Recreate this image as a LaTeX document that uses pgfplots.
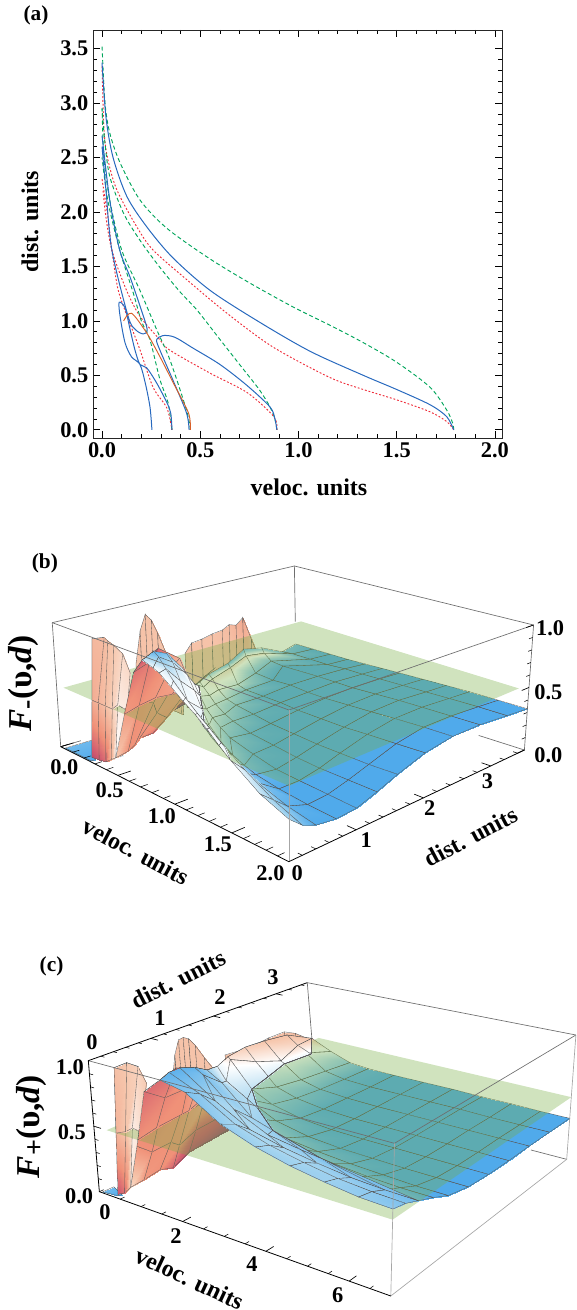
\documentclass[border=0pt]{standalone}
\usepackage{fontspec}
\setmainfont{Liberation Serif}
\usepackage{pgfplots}
\pgfplotsset{compat=1.18}
\definecolor{cb}{RGB}{40,105,190}
\definecolor{cg}{RGB}{0,165,90}
\definecolor{cr}{RGB}{238,45,58}
\definecolor{co}{RGB}{215,95,40}
\definecolor{pl}{RGB}{120,175,70}
\definecolor{fr}{RGB}{110,110,110}
\pgfplotsset{
 colormap={fm}{rgb255(0pt)=(90,60,120) rgb255(10pt)=(205,85,110) rgb255(20pt)=(240,145,120) rgb255(35pt)=(246,198,172) rgb255(50pt)=(255,255,255) rgb255(70pt)=(172,216,240) rgb255(100pt)=(80,170,235)},
 /pgfplots/table/pb/.style={row sep=\\,x expr={bx(\thisrow{v}/2,\thisrow{d}/3.5,\thisrow{F})},y expr={by(\thisrow{v}/2,\thisrow{d}/3.5,\thisrow{F})}},
 /pgfplots/table/pc/.style={row sep=\\,x expr={cx(\thisrow{v}/7,\thisrow{d}/3.5,\thisrow{F})},y expr={cy(\thisrow{v}/7,\thisrow{d}/3.5,\thisrow{F})}},
 sf/.style={surf,shader=faceted interp,faceted color=black!65,line width=.25pt,point meta=\thisrow{c}},
 ov/.style={scale only axis,width=432.75pt,hide axis,clip=false,xmin=0,xmax=1568,ymin=0,y dir=reverse,colormap name=fm,point meta min=0,point meta max=1,anchor=south west},
 /pgf/number format/assume math mode=true,
}
\newcommand\tl[4][0]{\node[font=\fontsize{16.8}{17}\bfseries\selectfont,rotate=#1] at (axis cs:#2,#3) {#4};}
\newcommand\al[4]{\node[font=\fontsize{18}{18}\bfseries\selectfont,rotate=#1] at (axis cs:#2,#3) {#4};}
\begin{document}
\begin{tikzpicture}[declare function={
 bx(\u,\w,\z)=(1-\z)*((1-\u)*((1-\w)*165+\w*805)+\u*((1-\w)*785+\w*1425))+\z*((1-\u)*((1-\w)*142+\w*800)+\u*((1-\w)*785+\w*1450));
 by(\u,\w,\z)=(1-\z)*((1-\u)*((1-\w)*620+\w*412)+\u*((1-\w)*965+\w*630))+\z*((1-\u)*((1-\w)*248+\w*78)+\u*((1-\w)*510+\w*255));
 cx(\u,\w,\z)=(1-\z)*((1-\u)*((1-\w)*270+\w*860)+\u*((1-\w)*1062+\w*1540))+\z*((1-\u)*((1-\w)*240+\w*835)+\u*((1-\w)*1072+\w*1565));
 cy(\u,\w,\z)=(1-\z)*((1-\u)*((1-\w)*755+\w*462)+\u*((1-\w)*1068+\w*658))+\z*((1-\u)*((1-\w)*362+\w*128)+\u*((1-\w)*610+\w*285));
}]
\path[use as bounding box] (0,0) rectangle (432.75pt,982.5pt);
% ---------------- panel (a)
\begin{axis}[at={(69.75pt,654pt)},anchor=south west,scale only axis,width=306.75pt,height=306pt,
 xmin=-0.046,xmax=2.036,ymin=-0.075,ymax=3.67,
 xtick={0,0.5,1,1.5,2},ytick={0,0.5,1,1.5,2,2.5,3,3.5},minor x tick num=4,minor y tick num=4,
 major tick length=5pt,minor tick length=2.8pt,tick style={black,line width=.5pt},tick align=inside,
 axis line style={black!85,line width=.7pt},
 tick label style={font=\fontsize{16.8}{17}\bfseries\selectfont},
 xticklabel style={/pgf/number format/.cd,fixed,fixed zerofill,precision=1},
 yticklabel style={/pgf/number format/.cd,fixed,fixed zerofill,precision=1},
 label style={font=\fontsize{18}{18}\bfseries\selectfont},
 xlabel={veloc. units},ylabel={dist. units},
 x label style={at={(axis description cs:0.528,-0.12)},anchor=center},
 y label style={at={(axis description cs:-0.154,0.53)},anchor=center},
 blu/.style={cb,line width=.75pt,smooth,tension=.5},
 grn/.style={cg,line width=.7pt,smooth,tension=.5,dash pattern=on 3pt off 2pt},
 rd/.style={cr,line width=.7pt,smooth,tension=.5,dash pattern=on 1.4pt off 1.4pt}]
\addplot[grn] coordinates {(1.79,0)(1.785,.06)(1.755,.18)(1.67,.39)(1.5,.62)(1.33,.8)(1.16,.96)(.97,1.13)(.74,1.36)(.54,1.58)(.33,1.85)(.193,2.11)(.092,2.45)(.04,2.72)(.015,3)(0,3.53)};
\addplot[rd] coordinates {(1.79,0)(1.755,.075)(1.67,.165)(1.5,.275)(1.33,.37)(1.16,.48)(.87,.76)(.636,1.07)(.43,1.38)(.26,1.65)(.178,1.86)(.076,2.2)(.03,2.48)(.01,2.75)(0,3.35)};
\addplot[blu] coordinates {(1.79,0)(1.755,.12)(1.67,.23)(1.5,.37)(1.33,.5)(1.06,.72)(.8,.99)(.55,1.28)(.36,1.58)(.229,1.86)(.127,2.14)(.056,2.5)(.02,2.87)(0,3.37)};
\addplot[grn] coordinates {(.89,0)(.88,.1)(.855,.21)(.8,.37)(.7,.6)(.6,.83)(.483,1.1)(.4,1.26)(.295,1.49)(.193,1.74)(.109,1.99)(.04,2.32)(.015,2.63)(0,2.95)};
\addplot[rd] coordinates {(.89,0)(.875,.12)(.74,.34)(.55,.52)(.346,.73)(.295,.825)(.19,1.05)(.12,1.3)(.05,1.65)(.02,1.95)(.005,2.2)};
\addplot[grn] coordinates {(.45,0)(.43,.18)(.346,.64)(.278,.92)(.193,1.28)(.10,1.65)(.04,2.1)(.01,2.5)(0,2.95)};
\addplot[grn] coordinates {(.356,0)(.336,.25)(.295,.46)(.244,.825)(.2,1)(.16,1.25)(.09,1.65)(.03,2.1)(0,2.5)};
\addplot[rd] coordinates {(0,2.3)(.03,1.95)(.05,1.65)(.08,1.3)(.12,1.08)(.19,.75)(.26,.39)(.33,.2)(.356,0)};
\addplot[blu] coordinates {(.89,0)(.88,.1)(.855,.21)(.736,.41)(.6,.6)(.463,.75)(.37,.85)(.31,.865)(.278,.825)(.295,.73)(.36,.46)(.43,.155)(.443,0)};
\addplot[blu] coordinates {(0,2.6)(.02,2.2)(.05,1.65)(.133,1.04)(.17,.92)(.21,.88)(.23,.92)(.2,1.1)(.143,1.4)(.09,1.65)(.04,2.1)(0,2.7)};
\addplot[blu] coordinates {(.254,0)(.244,.21)(.22,.43)(.193,.6)(.15,.67)(.117,.8)(.092,1.04)(.087,1.17)(.117,1.12)(.143,.92)(.168,.73)(.193,.6)(.227,.57)(.278,.43)(.33,.25)(.35,.15)(.356,0)};
\addplot[co,line width=.7pt,smooth,tension=.5] coordinates {(.11,1.0)(.15,1.07)(.227,.89)(.295,.67)(.36,.44)(.44,.155)(.45,0)};
\end{axis}
% ---------------- panel (b)
\begin{axis}[ov,at={(0,315pt)},height=262.5pt,ymax=1050]
\addplot[fr,line width=.5pt] table[pb] {v d F\\0 0 1\\0 3.5 1\\2 3.5 1\\};
\addplot[fr,line width=.5pt] table[pb] {v d F\\0 3.5 1\\0 3.5 .5\\};
\addplot[fr,line width=.5pt] table[pb] {v d F\\0 0 0\\0 .3 0\\};
\addplot[fr,line width=.5pt] table[pb] {v d F\\2 3.5 0\\1.6 3.5 0\\};
\addplot[fr,line width=.5pt] table[pb] {v d F\\0 0 1\\0 0 0\\};
% floor strip
\addplot[sf,mesh/rows=2,mesh/cols=2] table[pb] {v d F c\\.03 .42 0 .9\\.27 .06 .01 1\\.03 .02 0 .9\\.27 0 .01 1\\};
% back lobe L3
\addplot[sf,mesh/rows=2,mesh/cols=12] table[pb] {v d F c\\.2 1.55 .15 .35\\.2 1.65 .15 .35\\.2 1.8 .15 .35\\.2 1.95 .15 .35\\.2 2.1 .15 .35\\.2 2.2 .15 .35\\.2 2.3 .17 .35\\.2 2.4 .17 .35\\.2 2.52 .2 .35\\.2 2.6 .2 .35\\.2 2.7 .2 .35\\.2 2.77 .2 .35\\
.2 1.55 .6 .34\\.2 1.65 .67 .34\\.2 1.8 .68 .34\\.2 1.95 .7 .34\\.2 2.1 .71 .33\\.2 2.2 .74 .32\\.2 2.3 .72 .3\\.2 2.4 .77 .27\\.2 2.52 .56 .34\\.2 2.6 .43 .34\\.2 2.7 .43 .5\\.2 2.77 .32 .35\\};
% lobe L2
\addplot[sf,mesh/rows=2,mesh/cols=8] table[pb] {v d F c\\.1 1 .3 .35\\.15 1 .3 .35\\.2 1 .3 .35\\.25 1 .3 .35\\.3 1 .3 .35\\.4 1 .3 .35\\.48 1 .3 .35\\.5 1 .3 .35\\.1 1 .56 .34\\.15 1 .85 .34\\.2 1 1 .34\\.25 1 .97 .34\\.3 1 .88 .34\\.4 1 .67 .34\\.48 1 .45 .34\\.5 1 .36 .34\\};
% lobe L1
\addplot[sf,mesh/rows=6,mesh/cols=3] table[pb] {v d F c\\.49 .1 .13 .55\\.55 .1 .5 .45\\.59 .1 .8 .4\\
.49 0 .13 .5\\.53 0 .55 .45\\.575 .03 .95 .4\\
.45 0 .1 .3\\.48 0 .5 .38\\.52 0 1 .36\\
.4 0 .06 .14\\.42 0 .5 .33\\.44 .05 1 .34\\
.34 0 .05 .1\\.36 0 .5 .3\\.38 .1 1 .32\\
.274 0 .04 .08\\.305 0 .5 .28\\.336 0 .99 .31\\};
% salmon sheet
\addplot[sf,mesh/rows=7,mesh/cols=4] table[pb] {v d F c\\.04 1.8 .08 .03\\.13 1.8 .2 .08\\.22 1.8 .38 .22\\.31 1.8 .48 .35\\
.03 1.43 .02 .03\\.16 1.43 .15 .1\\.3 1.43 .35 .22\\.42 1.43 .49 .35\\
.19 1.05 .02 .15\\.32 1.05 .2 .2\\.45 1.05 .4 .22\\.58 1.05 .55 .35\\
.215 .81 .03 .2\\.38 .81 .3 .22\\.52 .81 .55 .22\\.65 .81 .7 .35\\
.3 .6 .05 .2\\.48 .6 .45 .22\\.62 .6 .75 .22\\.72 .6 .88 .3\\
.42 .3 .1 .2\\.55 .3 .55 .2\\.64 .3 .87 .16\\.72 .3 1 .12\\
.49 0 .13 .35\\.6 0 .56 .22\\.68 0 .85 .15\\.76 0 .97 .1\\};
% main surface
\addplot[sf,mesh/rows=12,mesh/cols=12] table[pb] {v d F c\\
0 3.5 .3 .9\\.15 3.5 .3 1\\.3 3.5 .3 1\\.45 3.5 .3 1\\.6 3.5 .305 1\\.75 3.5 .31 1\\.9 3.5 .315 1\\1.1 3.5 .32 1\\1.3 3.5 .325 1\\1.5 3.5 .33 1\\1.75 3.5 .33 1\\2 3.5 .33 1\\
.06 3.2 .3 .85\\.15 3.2 .31 .9\\.3 3.2 .31 1\\.45 3.2 .31 1\\.6 3.2 .32 1\\.75 3.2 .32 1\\.9 3.2 .325 1\\1.1 3.2 .33 1\\1.3 3.2 .335 1\\1.5 3.2 .34 1\\1.75 3.2 .345 1\\2 3.2 .345 1\\
.12 2.8 .42 .8\\.14 2.8 .38 .42\\.2 2.8 .33 .85\\.3 2.8 .32 1\\.6 2.8 .33 1\\.75 2.8 .33 1\\.9 2.8 .33 1\\1.1 2.8 .34 1\\1.3 2.8 .35 1\\1.5 2.8 .355 1\\1.75 2.8 .36 1\\2 2.8 .365 1\\
.2 2.4 .5 .85\\.22 2.4 .45 .42\\.3 2.4 .33 .85\\.45 2.4 .32 1\\.6 2.4 .33 1\\.75 2.4 .32 1\\.9 2.4 .32 1\\1.1 2.4 .33 1\\1.3 2.4 .34 1\\1.5 2.4 .35 1\\1.75 2.4 .36 1\\2 2.4 .365 1\\
.3 2 .48 .85\\.32 2 .45 .42\\.38 2 .33 .6\\.45 2 .31 .85\\.6 2 .31 1\\.75 2 .31 1\\.9 2 .3 1\\1.1 2 .3 1\\1.3 2 .3 1\\1.5 2 .31 1\\1.75 2 .32 1\\2 2 .33 1\\
.37 1.6 .48 .7\\.4 1.6 .45 .45\\.45 1.6 .38 .5\\.52 1.6 .33 .65\\.6 1.6 .31 .8\\.75 1.6 .29 .95\\.9 1.6 .27 1\\1.1 1.6 .26 1\\1.3 1.6 .25 1\\1.5 1.6 .25 1\\1.75 1.6 .25 1\\2 1.6 .26 1\\
.47 1.3 .5 .5\\.5 1.3 .47 .5\\.55 1.3 .42 .52\\.6 1.3 .37 .6\\.68 1.3 .32 .7\\.75 1.3 .29 .8\\.9 1.3 .25 .95\\1.1 1.3 .23 1\\1.3 1.3 .21 1\\1.5 1.3 .2 1\\1.75 1.3 .2 1\\2 1.3 .2 1\\
.58 1 .55 .5\\.6 1 .58 .5\\.65 1 .5 .52\\.7 1 .42 .55\\.75 1 .37 .6\\.82 1 .32 .7\\.9 1 .27 .82\\1.1 1 .22 .95\\1.3 1 .18 1\\1.5 1 .17 1\\1.75 1 .16 1\\2 1 .15 1\\
.68 .7 .78 .5\\.72 .7 .74 .5\\.78 .7 .64 .5\\.84 .7 .52 .52\\.9 .7 .42 .55\\1 .7 .33 .65\\1.1 .7 .27 .75\\1.2 .7 .23 .85\\1.3 .7 .2 .92\\1.5 .7 .17 1\\1.75 .7 .15 1\\2 .7 .14 1\\
.73 .4 .95 .85\\.78 .4 .9 .65\\.84 .4 .78 .55\\.9 .4 .65 .52\\1 .4 .54 .55\\1.1 .4 .45 .6\\1.2 .4 .39 .65\\1.3 .4 .34 .72\\1.4 .4 .3 .8\\1.5 .4 .27 .85\\1.75 .4 .2 .95\\2 .4 .16 1\\
.74 .2 1 .95\\.78 .2 .97 .8\\.84 .2 .9 .6\\.9 .2 .83 .55\\1 .2 .74 .52\\1.1 .2 .66 .52\\1.2 .2 .59 .53\\1.3 .2 .52 .55\\1.4 .2 .46 .58\\1.5 .2 .4 .62\\1.75 .2 .28 .75\\2 .2 .2 .85\\
.76 0 .97 .6\\.8 0 .96 .55\\.85 0 .94 .52\\.9 0 .92 .52\\1 0 .85 .5\\1.1 0 .78 .5\\1.2 0 .72 .5\\1.3 0 .65 .5\\1.4 0 .57 .5\\1.5 0 .5 .52\\1.75 0 .36 .62\\2 0 .28 .7\\};
% green plane at 0.5
\addplot[fill=pl,fill opacity=.35,draw=none] table[pb] {v d F\\.06 0 .5\\2 0 .5\\1.96 3.42 .5\\.02 3.55 .5\\} -- cycle;
% parts above the plane
\addplot[sf,mesh/rows=6,mesh/cols=2] table[pb] {v d F c\\.55 .1 .5 .45\\.59 .1 .8 .4\\.53 0 .55 .45\\.575 .03 .95 .4\\.48 0 .5 .38\\.52 0 1 .36\\.42 0 .5 .33\\.44 .05 1 .34\\.36 0 .5 .3\\.38 .1 1 .32\\.305 0 .5 .28\\.336 0 .99 .31\\};
\addplot[sf,mesh/rows=6,mesh/cols=3] table[pb] {v d F c\\.52 1.2 .5 .35\\.52 1.2 .5 .35\\.52 1.2 .5 .35\\
.56 1.05 .5 .22\\.57 1.05 .53 .3\\.58 1.05 .55 .35\\
.52 .81 .5 .22\\.6 .81 .62 .25\\.65 .81 .7 .35\\
.5 .6 .5 .22\\.62 .6 .75 .22\\.72 .6 .88 .3\\
.535 .3 .5 .2\\.64 .3 .87 .16\\.72 .3 1 .12\\
.585 0 .5 .22\\.68 0 .85 .15\\.76 0 .97 .1\\};
\addplot[sf,mesh/rows=6,mesh/cols=9] table[pb] {v d F c\\.52 1.2 .5 .5\\.52 1.2 .5 .5\\.52 1.2 .5 .5\\.52 1.2 .5 .5\\.52 1.2 .5 .5\\.52 1.2 .5 .5\\.52 1.2 .5 .5\\.52 1.2 .5 .5\\.52 1.2 .5 .5\\
.58 1 .55 .5\\.6 1 .58 .5\\.65 1 .5 .52\\.65 1 .5 .52\\.65 1 .5 .52\\.65 1 .5 .52\\.65 1 .5 .52\\.65 1 .5 .52\\.65 1 .5 .52\\
.68 .7 .78 .5\\.72 .7 .74 .5\\.78 .7 .64 .5\\.84 .7 .52 .52\\.85 .7 .5 .55\\.85 .7 .5 .55\\.85 .7 .5 .55\\.85 .7 .5 .55\\.85 .7 .5 .55\\
.73 .4 .95 .85\\.78 .4 .9 .65\\.84 .4 .78 .55\\.9 .4 .65 .52\\1 .4 .54 .55\\1.04 .4 .5 .57\\1.04 .4 .5 .57\\1.04 .4 .5 .57\\1.04 .4 .5 .57\\
.74 .2 1 .95\\.78 .2 .97 .8\\.84 .2 .9 .6\\.9 .2 .83 .55\\1 .2 .74 .52\\1.1 .2 .66 .52\\1.2 .2 .59 .53\\1.3 .2 .52 .55\\1.33 .2 .5 .56\\
.76 0 .97 .6\\.85 0 .94 .52\\.9 0 .92 .52\\1 0 .85 .5\\1.1 0 .78 .5\\1.2 0 .72 .5\\1.3 0 .65 .5\\1.4 0 .57 .5\\1.5 0 .5 .52\\};
% frame
\addplot[fr,line width=.5pt] table[pb] {v d F\\0 0 1\\2 0 1\\2 3.5 1\\2 3.5 0\\};
\addplot[black!35,line width=.5pt] table[pb] {v d F\\2 0 1\\2 0 0\\};
\addplot[black,line width=.6pt] table[pb] {v d F\\0 0 0\\2 0 0\\2 3.5 0\\};
\pgfplotsinvokeforeach{0,.1,.2,.3,.4,.6,.7,.8,.9,1.1,1.2,1.3,1.4,1.6,1.7,1.8,1.9}{\addplot[black,line width=.4pt] coordinates {({bx(#1/2,0,0)},{by(#1/2,0,0)}) ({bx(#1/2,.03,0)},{by(#1/2,.03,0)})};}
\pgfplotsinvokeforeach{0,.5,1,1.5}{\addplot[black,line width=.5pt] coordinates {({bx(#1/2,0,0)},{by(#1/2,0,0)}) ({bx(#1/2,.055,0)},{by(#1/2,.055,0)})};}
\pgfplotsinvokeforeach{.2,.4,.6,.8,1.2,1.4,1.6,1.8,2.2,2.4,2.6,2.8,3.2,3.4}{\addplot[black,line width=.4pt] coordinates {({bx(1,#1/3.5,0)},{by(1,#1/3.5,0)}) ({bx(.98,#1/3.5,0)},{by(.98,#1/3.5,0)})};}
\pgfplotsinvokeforeach{1,2,3}{\addplot[black,line width=.5pt] coordinates {({bx(1,#1/3.5,0)},{by(1,#1/3.5,0)}) ({bx(.96,#1/3.5,0)},{by(.96,#1/3.5,0)})};}
\pgfplotsinvokeforeach{.1,.2,.3,.4,.6,.7,.8,.9}{\addplot[black,line width=.4pt] coordinates {({bx(1,1,#1)},{by(1,1,#1)}) ({bx(1,.985,#1)},{by(1,.985,#1)})};}
\pgfplotsinvokeforeach{0,.5,1}{\addplot[black,line width=.5pt] coordinates {({bx(1,1,#1)},{by(1,1,#1)}) ({bx(1,.97,#1)},{by(1,.97,#1)})};}
\tl{175}{682}{0.0}\tl{298}{752}{0.5}\tl{440}{828}{1.0}\tl{592}{912}{1.5}\tl{735}{1000}{2.0}
\tl{808}{1000}{0}\tl{995}{900}{1}\tl{1168}{805}{2}\tl{1325}{725}{3}
\tl{1495}{265}{1.0}\tl{1490}{458}{0.5}\tl{1490}{645}{0.0}
\al{-28}{370}{935}{veloc. units}\al{28}{1280}{890}{dist. units}
\node[font=\fontsize{16}{16}\bfseries\selectfont] at (axis cs:122,70) {(b)};
\node[rotate=90,font=\fontsize{25}{25}\bfseries\selectfont] at (axis cs:65,430) {\itshape F\raisebox{-3pt}{\fontsize{21}{21}\selectfont\upshape -}\upshape(υ,\itshape d\upshape)};
\end{axis}
% ---------------- panel (c)
\begin{axis}[ov,at={(0,0)},height=277.5pt,ymax=1110]
\addplot[fr,line width=.5pt] table[pc] {v d F\\0 3.5 1\\7 3.5 1\\};
\addplot[fr,line width=.5pt] table[pc] {v d F\\0 3.5 1\\0 3.5 .5\\};
\addplot[fr,line width=.5pt] table[pc] {v d F\\7 3.5 0\\6 3.5 0\\};
\addplot[sf,mesh/rows=2,mesh/cols=2] table[pc] {v d F c\\.05 .2 0 .9\\.4 .1 0 1\\.05 .02 0 .9\\.45 0 .02 1\\};
% lobe L3
\addplot[sf,mesh/rows=2,mesh/cols=8] table[pc] {v d F c\\.05 2.1 .4 .4\\.05 2.3 .4 .4\\.05 2.52 .4 .4\\.05 2.8 .4 .4\\.05 3.05 .4 .4\\.05 3.22 .4 .4\\.05 3.35 .4 .4\\.05 3.45 .4 .4\\
.05 2.1 .66 .34\\.05 2.3 .65 .34\\.05 2.52 .64 .33\\.05 2.8 .66 .33\\.05 3.05 .66 .33\\.05 3.22 .61 .33\\.05 3.35 .55 .34\\.05 3.45 .5 .36\\};
% lobe L2
\addplot[sf,mesh/rows=2,mesh/cols=8] table[pc] {v d F c\\.02 1.3 .4 .36\\.08 1.3 .4 .36\\.2 1.3 .4 .36\\.32 1.3 .4 .36\\.45 1.3 .4 .36\\.6 1.3 .4 .36\\.8 1.3 .4 .36\\1 1.3 .4 .36\\.02 1.3 .7 .34\\.08 1.3 .82 .34\\.2 1.3 .95 .34\\.32 1.3 .98 .34\\.45 1.3 .98 .34\\.6 1.3 .94 .34\\.8 1.3 .86 .34\\1 1.3 .79 .34\\};
% lobe L1
\addplot[sf,mesh/rows=4,mesh/cols=3] table[pc] {v d F c\\.78 0 .12 .5\\.82 .2 .5 .42\\.85 .32 .85 .36\\
.78 0 .12 .45\\.8 .08 .55 .45\\.87 .19 1 .38\\
.62 0 .06 .15\\.6 .1 .5 .35\\.58 .21 1 .36\\
.45 0 .03 .1\\.52 0 .5 .3\\.59 0 1 .33\\};
% salmon sheet
\addplot[sf,mesh/rows=6,mesh/cols=4] table[pc] {v d F c\\.07 2.1 .05 .05\\.12 2.1 .2 .1\\.2 2.1 .45 .25\\.4 2.1 .7 .36\\
.03 1.43 0 .08\\.25 1.43 .2 .12\\.5 1.43 .45 .25\\.85 1.43 .74 .4\\
.3 1 0 .12\\.5 1 .2 .2\\.8 1 .5 .22\\1.2 1 .85 .3\\
.17 .87 0 .2\\.5 .87 .25 .2\\.9 .87 .6 .2\\1.25 .87 .9 .25\\
.5 .4 .06 .22\\.75 .4 .3 .2\\1.05 .4 .65 .18\\1.45 .4 1 .14\\
.78 0 .12 .4\\1 0 .45 .2\\1.25 0 .88 .14\\1.64 0 1 .1\\};
% main surface
\addplot[sf,mesh/rows=11,mesh/cols=11] table[pc] {v d F c\\
0 3.5 .5 .35\\.5 3.5 .42 .55\\1 3.5 .36 .8\\1.5 3.5 .345 .95\\2.2 3.5 .34 1\\3 3.5 .34 1\\3.8 3.5 .34 1\\4.6 3.5 .335 1\\5.4 3.5 .335 1\\6.2 3.5 .33 1\\7 3.5 .33 1\\
.03 3.1 .62 .34\\.5 3.1 .5 .5\\1 3.1 .38 .75\\1.5 3.1 .35 .95\\2.2 3.1 .34 1\\3 3.1 .34 1\\3.8 3.1 .34 1\\4.6 3.1 .34 1\\5.4 3.1 .335 1\\6.2 3.1 .335 1\\7 3.1 .335 1\\
.1 2.7 .66 .35\\.5 2.7 .52 .5\\1 2.7 .4 .7\\1.5 2.7 .36 .9\\2.2 2.7 .345 1\\3 2.7 .34 1\\3.8 2.7 .34 1\\4.6 2.7 .34 1\\5.4 2.7 .34 1\\6.2 2.7 .34 1\\7 2.7 .34 1\\
.25 2.3 .7 .37\\.5 2.3 .6 .48\\1 2.3 .43 .7\\1.5 2.3 .38 .85\\2.2 2.3 .35 1\\3 2.3 .34 1\\3.8 2.3 .34 1\\4.6 2.3 .34 1\\5.4 2.3 .34 1\\6.2 2.3 .34 1\\7 2.3 .34 1\\
.45 1.9 .72 .42\\.5 1.9 .7 .46\\1 1.9 .5 .65\\1.5 1.9 .42 .8\\2.2 1.9 .37 .95\\3 1.9 .35 1\\3.8 1.9 .345 1\\4.6 1.9 .345 1\\5.4 1.9 .345 1\\6.2 1.9 .345 1\\7 1.9 .345 1\\
.8 1.5 .75 .55\\.8 1.5 .75 .55\\1 1.5 .65 .58\\1.5 1.5 .55 .68\\2.2 1.5 .44 .85\\3 1.5 .39 .95\\3.8 1.5 .37 1\\4.6 1.5 .365 1\\5.4 1.5 .36 1\\6.2 1.5 .36 1\\7 1.5 .36 1\\
1.15 1.1 .83 .75\\1.15 1.1 .83 .75\\1.15 1.1 .83 .75\\1.5 1.1 .76 .72\\2.2 1.1 .55 .72\\3 1.1 .47 .8\\3.8 1.1 .44 .9\\4.6 1.1 .42 .95\\5.4 1.1 .41 1\\6.2 1.1 .4 1\\7 1.1 .4 1\\
1.3 .8 .92 .95\\1.3 .8 .92 .95\\1.3 .8 .92 .95\\1.5 .8 .88 .85\\2.2 .8 .68 .7\\3 .8 .56 .72\\3.8 .8 .52 .8\\4.6 .8 .49 .85\\5.4 .8 .47 .9\\6.2 .8 .46 .95\\7 .8 .46 1\\
1.4 .5 .98 .95\\1.4 .5 .98 .95\\1.4 .5 .98 .95\\1.5 .5 .97 .9\\2.2 .5 .8 .72\\3 .5 .66 .7\\3.8 .5 .6 .72\\4.6 .5 .56 .75\\5.4 .5 .53 .8\\6.2 .5 .515 .85\\7 .5 .51 .9\\
1.5 .25 1 .95\\1.5 .25 1 .95\\1.5 .25 1 .95\\1.5 .25 1 .95\\2.2 .25 .9 .8\\3 .25 .75 .72\\3.8 .25 .67 .7\\4.6 .25 .62 .72\\5.4 .25 .58 .75\\6.2 .25 .56 .8\\7 .25 .55 .85\\
1.64 0 1 .9\\1.64 0 1 .9\\1.64 0 1 .9\\1.64 0 1 .9\\2.2 0 .96 .85\\3 0 .8 .78\\3.8 0 .71 .75\\4.6 0 .65 .75\\5.4 0 .61 .75\\6.2 0 .58 .78\\7 0 .57 .8\\};
% plane
\addplot[fill=pl,fill opacity=.35,draw=none] table[pc] {v d F\\.3 0 .5\\7 0 .5\\7 3.5 .5\\.1 3.55 .5\\} -- cycle;
% parts above the plane
\addplot[sf,mesh/rows=4,mesh/cols=2] table[pc] {v d F c\\.82 .2 .5 .42\\.85 .32 .85 .36\\.8 .08 .55 .45\\.87 .19 1 .38\\.6 .1 .5 .35\\.58 .21 1 .36\\.52 0 .5 .3\\.59 0 1 .33\\};
\addplot[sf,mesh/rows=6,mesh/cols=3] table[pc] {v d F c\\.22 2.1 .5 .25\\.3 2.1 .6 .3\\.4 2.1 .7 .36\\.55 1.43 .5 .25\\.7 1.43 .62 .3\\.85 1.43 .74 .4\\.8 1 .5 .22\\1 1 .68 .25\\1.2 1 .85 .3\\.82 .87 .5 .2\\1 .87 .72 .2\\1.25 .87 .9 .25\\.9 .4 .5 .2\\1.15 .4 .75 .18\\1.45 .4 1 .14\\1.03 0 .5 .2\\1.25 0 .88 .14\\1.64 0 1 .1\\};
\addplot[sf,mesh/rows=11,mesh/cols=8] table[pc] {v d F c\\
0 3.5 .5 .35\\0 3.5 .5 .35\\0 3.5 .5 .35\\0 3.5 .5 .35\\0 3.5 .5 .35\\0 3.5 .5 .35\\0 3.5 .5 .35\\0 3.5 .5 .35\\
.03 3.1 .62 .34\\.3 3.1 .55 .4\\.64 3.1 .5 .55\\.64 3.1 .5 .55\\.64 3.1 .5 .55\\.64 3.1 .5 .55\\.64 3.1 .5 .55\\.64 3.1 .5 .55\\
.1 2.7 .66 .35\\.5 2.7 .52 .5\\.58 2.7 .5 .55\\.58 2.7 .5 .55\\.58 2.7 .5 .55\\.58 2.7 .5 .55\\.58 2.7 .5 .55\\.58 2.7 .5 .55\\
.25 2.3 .7 .37\\.5 2.3 .6 .48\\.8 2.3 .5 .6\\.8 2.3 .5 .6\\.8 2.3 .5 .6\\.8 2.3 .5 .6\\.8 2.3 .5 .6\\.8 2.3 .5 .6\\
.45 1.9 .72 .42\\.5 1.9 .7 .46\\1 1.9 .5 .65\\1 1.9 .5 .65\\1 1.9 .5 .65\\1 1.9 .5 .65\\1 1.9 .5 .65\\1 1.9 .5 .65\\
.8 1.5 .75 .55\\1 1.5 .65 .58\\1.5 1.5 .55 .68\\1.75 1.5 .5 .72\\1.75 1.5 .5 .72\\1.75 1.5 .5 .72\\1.75 1.5 .5 .72\\1.75 1.5 .5 .72\\
1.15 1.1 .83 .75\\1.5 1.1 .76 .72\\2.2 1.1 .55 .72\\2.7 1.1 .5 .78\\2.7 1.1 .5 .78\\2.7 1.1 .5 .78\\2.7 1.1 .5 .78\\2.7 1.1 .5 .78\\
1.3 .8 .92 .95\\1.5 .8 .88 .85\\2.2 .8 .68 .7\\3 .8 .56 .72\\3.8 .8 .52 .8\\4.3 .8 .5 .85\\4.3 .8 .5 .85\\4.3 .8 .5 .85\\
1.4 .5 .98 .95\\2.2 .5 .8 .72\\3 .5 .66 .7\\3.8 .5 .6 .72\\4.6 .5 .56 .75\\5.4 .5 .53 .8\\6.2 .5 .515 .85\\7 .5 .51 .9\\
1.5 .25 1 .95\\2.2 .25 .9 .8\\3 .25 .75 .72\\3.8 .25 .67 .7\\4.6 .25 .62 .72\\5.4 .25 .58 .75\\6.2 .25 .56 .8\\7 .25 .55 .85\\
1.64 0 1 .9\\2.2 0 .96 .85\\3 0 .8 .78\\3.8 0 .71 .75\\4.6 0 .65 .75\\5.4 0 .61 .75\\6.2 0 .58 .78\\7 0 .57 .8\\};
% frame
\addplot[fr,line width=.5pt] table[pc] {v d F\\0 0 1\\7 0 1\\7 3.5 1\\};
\addplot[black!35,line width=.5pt] table[pc] {v d F\\7 3.5 1\\7 3.5 0\\7 0 0\\7 0 1\\};
\addplot[black,line width=.6pt] table[pc] {v d F\\7 0 0\\0 0 0\\0 0 1\\0 3.5 1\\};
\pgfplotsinvokeforeach{0,.5,1,1.5,2.5,3,3.5,4.5,5,5.5,6.5}{\addplot[black,line width=.4pt] coordinates {({cx(#1/7,0,0)},{cy(#1/7,0,0)}) ({cx(#1/7,.02,0)},{cy(#1/7,.02,0)})};}
\pgfplotsinvokeforeach{2,4,6}{\addplot[black,line width=.5pt] coordinates {({cx(#1/7,0,0)},{cy(#1/7,0,0)}) ({cx(#1/7,.04,0)},{cy(#1/7,.04,0)})};}
\pgfplotsinvokeforeach{.2,.4,.6,.8,1.2,1.4,1.6,1.8,2.2,2.4,2.6,2.8,3.2,3.4}{\addplot[black,line width=.4pt] coordinates {({cx(0,#1/3.5,1)},{cy(0,#1/3.5,1)}) ({cx(.012,#1/3.5,1)},{cy(.012,#1/3.5,1)})};}
\pgfplotsinvokeforeach{1,2,3}{\addplot[black,line width=.5pt] coordinates {({cx(0,#1/3.5,1)},{cy(0,#1/3.5,1)}) ({cx(.024,#1/3.5,1)},{cy(.024,#1/3.5,1)})};}
\pgfplotsinvokeforeach{.1,.2,.3,.4,.6,.7,.8,.9}{\addplot[black,line width=.4pt] coordinates {({cx(0,0,#1)},{cy(0,0,#1)}) ({cx(.012,0,#1)},{cy(.012,0,#1)})};}
\pgfplotsinvokeforeach{.5}{\addplot[black,line width=.5pt] coordinates {({cx(0,0,#1)},{cy(0,0,#1)}) ({cx(.024,0,#1)},{cy(.024,0,#1)})};}
\tl{250}{305}{0}\tl{435}{235}{1}\tl{598}{172}{2}\tl{742}{112}{3}
\tl{190}{382}{1.0}\tl{195}{578}{0.5}\tl{215}{768}{0.0}
\tl{285}{815}{0}\tl{478}{888}{2}\tl{685}{972}{4}\tl{918}{1065}{6}
\al{27}{485}{118}{dist. units}\al{-25}{515}{1016}{veloc. units}
\node[font=\fontsize{16}{16}\bfseries\selectfont] at (axis cs:140,80) {(c)};
\node[rotate=90,font=\fontsize{25}{25}\bfseries\selectfont] at (axis cs:85,560) {\itshape F\raisebox{-3pt}{\fontsize{21}{21}\selectfont\upshape +}\upshape(υ,\itshape d\upshape)};
\end{axis}
\node[font=\fontsize{16}{16}\bfseries\selectfont] at (27pt,971pt) {(a)};
\end{tikzpicture}
\end{document}
